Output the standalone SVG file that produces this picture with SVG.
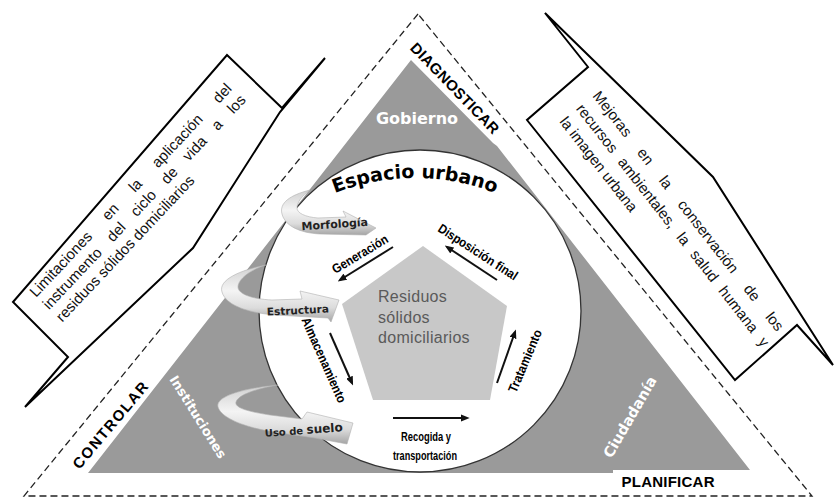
<svg xmlns="http://www.w3.org/2000/svg" width="835" height="498" viewBox="0 0 835 498">
  <defs>
    <marker id="ah" viewBox="0 0 10 8" refX="7" refY="4" markerWidth="4.5" markerHeight="3.6" orient="auto" markerUnits="strokeWidth">
      <path d="M0,0 L10,4 L0,8 Z" fill="#111"/>
    </marker>
    <linearGradient id="swirl" x1="0" y1="0" x2="0" y2="1">
      <stop offset="0" stop-color="#cfcfcf"/>
      <stop offset="0.45" stop-color="#f4f4f4"/>
      <stop offset="0.75" stop-color="#dcdcdc"/>
      <stop offset="1" stop-color="#a5a5a5"/>
    </linearGradient>
    <path id="arcTitle" d="M285,220.5 A220,220 0 0,1 545,220.5"/>
  </defs>
  <style>
    .callout{fill:#fff;stroke:#000;stroke-width:2;stroke-linejoin:miter}
    .note{font-family:"Liberation Sans",Arial,sans-serif;font-size:15px;fill:#111}
    .phase{font-family:"Liberation Sans",Arial,sans-serif;font-weight:bold;font-size:15px;fill:#000}
    .actor{font-family:"DejaVu Sans",Verdana,sans-serif;font-weight:bold;fill:#fff}
    .step{font-family:"Liberation Sans",Arial,sans-serif;font-weight:bold;font-size:13px;fill:#000}
    .flow{stroke:#111;stroke-width:2;fill:none;marker-end:url(#ah)}
    .swirl{fill:url(#swirl);stroke:#b0b0b0;stroke-width:0.6}
    .swirlText{font-family:"DejaVu Sans",Verdana,sans-serif;font-weight:bold;fill:#222}
  </style>

  <rect width="835" height="498" fill="#fff"/>

  <!-- outer management frame -->
  <g id="frame">
    <polygon points="418,14 24,496 812,496" fill="none" stroke="#222" stroke-width="1.3" stroke-dasharray="7 4"/>
  </g>

  <!-- actors triangle -->
  <g id="actors">
    <polygon points="88,473 411,60 493,143 497,146 750,470 613,470 613,473" fill="#9a9a9a"/>
    <text class="actor" x="417" y="124" font-size="16" text-anchor="middle">Gobierno</text>
    <text class="actor" font-size="13" text-anchor="middle" transform="translate(198,417) rotate(58)" y="4.5">Instituciones</text>
    <text class="actor" font-size="14.5" text-anchor="middle" transform="translate(630,417) rotate(-60)" y="5">Ciudadanía</text>
  </g>

  <!-- phase labels -->
  <g id="phases">
    <text class="phase" text-anchor="middle" transform="translate(455,88) rotate(46)" y="5.5" textLength="120">DIAGNOSTICAR</text>
    <text class="phase" font-size="16" text-anchor="middle" transform="translate(110,425) rotate(-50)" y="5.5" textLength="108">CONTROLAR</text>
    <text class="phase" font-size="16" x="668" y="487" text-anchor="middle" textLength="93">PLANIFICAR</text>
  </g>

  <!-- left callout -->
  <g id="callout-left">
    <polygon class="callout" points="227,55 282,108 325,58 280,112 193,248 25,407 68,357 13,302"/>
    <g transform="translate(36,298) rotate(-46.7)">
      <text class="note" x="0" y="0" word-spacing="17.9">Limitaciones en la aplicación del</text>
      <text class="note" x="0" y="18" word-spacing="10.5">instrumento del ciclo de vida a los</text>
      <text class="note" x="0" y="36">residuos sólidos domiciliarios</text>
    </g>
  </g>

  <!-- right callout -->
  <g id="callout-right">
    <polygon class="callout" points="545,13 588,67 527,120 735,380 797,325 833,365 713,177"/>
    <g transform="translate(592,96) rotate(52)">
      <text class="note" x="0" y="0" word-spacing="14.6">Mejoras en la conservación de los</text>
      <text class="note" x="0" y="21" word-spacing="6.1">recursos ambientales, la salud humana y</text>
      <text class="note" x="0" y="42">la imagen urbana</text>
    </g>
  </g>

  <!-- urban space -->
  <g id="espacio-urbano">
    <circle cx="420" cy="311" r="161" fill="#fff" stroke="#333" stroke-width="1.3"/>
    <text font-family="DejaVu Sans, Verdana, sans-serif" font-weight="bold" font-size="19" fill="#000"><textPath href="#arcTitle" startOffset="50%" text-anchor="middle">Espacio urbano</textPath></text>
  </g>

  <!-- waste core -->
  <g id="residuos">
    <polygon points="423,246 507,306 490,400 373,400 342,304" fill="#c8c8c8"/>
    <text font-family="Liberation Sans, Arial, sans-serif" font-size="16" fill="#5a5a5a" letter-spacing="0.3">
      <tspan x="378" y="302">Residuos</tspan>
      <tspan x="378" y="323">sólidos</tspan>
      <tspan x="378" y="343">domiciliarios</tspan>
    </text>
  </g>

  <!-- urban factors -->
  <g id="morfologia">
    <path class="swirl" d="M310,190 C290,195 279,203 282,214 C285,226 300,233 320,234 L366,235 L376,228 L343,211 L346,217 L318,218 C305,217 297,213 297,208 C297,202 302,196 310,190 Z"/>
    <text class="swirlText" font-size="11" x="335" y="228" text-anchor="middle" transform="rotate(-4 335 228)">Morfología</text>
  </g>
  <g id="estructura">
    <path class="swirl" d="M266,265 C240,270 218,280 222,292 C226,306 250,313 275,315 L328,318 L331,322 L339,300 L300,291 L302,299 L272,300 C252,299 238,294 238,287 C238,279 250,270 266,265 Z"/>
    <text class="swirlText" font-size="10.5" x="298" y="314" text-anchor="middle" transform="rotate(-3 298 314)">Estructura</text>
  </g>
  <g id="uso-suelo">
    <path class="swirl" d="M278,385 C245,388 215,396 218,407 C221,418 245,428 280,433 L315,438 L347,444 L353,423 L307,412 L302,419 L270,415 C250,412 234,408 236,402 C238,395 255,389 278,385 Z"/>
    <text class="swirlText" x="304" y="434" text-anchor="middle" transform="rotate(-4 304 434)"><tspan font-size="10">Uso de </tspan><tspan font-size="12">suelo</tspan></text>
  </g>

  <!-- life-cycle steps -->
  <g id="connectors">
    <line class="flow" x1="393" y1="247" x2="340" y2="280"/>
    <line class="flow" x1="497" y1="280" x2="447" y2="247"/>
    <line class="flow" x1="330" y1="333" x2="352" y2="383"/>
    <line class="flow" x1="497" y1="383" x2="515" y2="332"/>
    <line class="flow" x1="393" y1="418" x2="467" y2="418"/>
  </g>
  <g id="step-generacion">
    <text class="step" text-anchor="middle" transform="translate(360,254) rotate(-31)" y="4.5" textLength="63" lengthAdjust="spacingAndGlyphs">Generación</text>
  </g>
  <g id="step-disposicion">
    <text class="step" text-anchor="middle" transform="translate(478,252) rotate(33)" y="4.5" textLength="92" lengthAdjust="spacingAndGlyphs">Disposición final</text>
  </g>
  <g id="step-almacenamiento">
    <text class="step" text-anchor="middle" transform="translate(324,360) rotate(66)" y="4.5" textLength="92" lengthAdjust="spacingAndGlyphs">Almacenamiento</text>
  </g>
  <g id="step-tratamiento">
    <text class="step" text-anchor="middle" transform="translate(525,361) rotate(-67)" y="4.5" textLength="67" lengthAdjust="spacingAndGlyphs">Tratamiento</text>
  </g>
  <g id="step-recogida">
    <text class="step" x="426" y="441" text-anchor="middle" textLength="50" lengthAdjust="spacingAndGlyphs">Recogida y</text>
    <text class="step" x="425" y="460" text-anchor="middle" textLength="64" lengthAdjust="spacingAndGlyphs">transportación</text>
  </g>
</svg>
